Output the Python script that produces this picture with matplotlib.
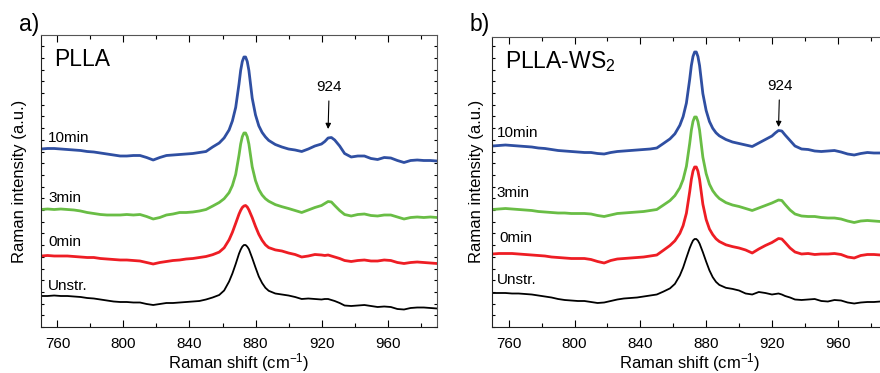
import matplotlib
matplotlib.use("Agg")
import matplotlib.pyplot as plt
from matplotlib.ticker import MultipleLocator

plt.rcParams['font.family'] = ['Liberation Sans', 'DejaVu Sans']
plt.rcParams['mathtext.fontset'] = 'custom'
plt.rcParams['mathtext.rm'] = 'Liberation Sans'
plt.rcParams['mathtext.it'] = 'Liberation Sans:italic'
plt.rcParams['mathtext.default'] = 'regular'

# Raman shift (cm-1)
wavenumber = [750, 754, 758, 762, 766, 770, 774, 778, 782, 786, 790, 794, 798, 802, 806, 810, 814, 818, 822, 826,
              830, 834, 838, 842, 846, 850,
              854, 858, 861, 864, 866, 868, 870, 871, 872, 873, 874, 875, 876, 878, 880, 882, 884, 886, 888, 892, 896,
              900, 904, 908, 912, 916, 920, 922, 924, 926, 928, 931, 934, 938,
              942, 946, 950, 954, 958, 962, 966, 970, 974, 978, 982, 986, 990]

# panel a) PLLA, stacked spectra (offset a.u.)
a_unstr = [31, 31, 31.5, 31, 31, 30.5, 30, 29, 28.5, 27.5, 26.5, 25.5, 25, 25, 24.5, 24.5, 23, 22, 23, 24,
           24, 24.5, 25, 25.5, 26, 27.5,
           29.5, 32, 36.5, 45.5, 53.5, 63, 73.3, 77.3, 80.4, 82, 82, 80.4, 77.8, 69, 59.5, 50.5, 44, 39.2, 36.2, 33.5, 32.5,
           31.5, 30, 28, 28.5, 28, 27.5, 28, 28, 27, 26, 24, 21.5, 21,
           21.5, 22, 21, 20, 20.5, 20, 18, 17.5, 19, 19.5, 19.5, 19, 18.5]
a_0min = [71, 71.5, 71, 71, 71, 70.5, 70, 69.5, 69.5, 68.5, 68, 67.5, 67, 67, 66.5, 66, 64.5, 63, 64.5, 65.5,
          66.5, 67, 68, 68.5, 69.5, 70.5,
          72.3, 74.9, 79.2, 87.2, 94.7, 103.7, 112.9, 116.6, 119.5, 121, 121.5, 120, 117.1, 109.4, 100.6, 92.7, 86.7, 82.2, 79.4, 77.1, 76,
          74, 72.5, 70, 71, 72.5, 72, 71.5, 72, 71, 70, 68.5, 66.5, 65.5,
          66.5, 67, 66, 66, 67, 66.5, 64.5, 63.5, 64.5, 65, 64.5, 64, 63.5]
a_3min = [117.5, 118, 117.5, 118, 117.5, 117, 116, 114.5, 113.5, 112.5, 112, 112, 112, 112.5, 112, 112.5, 110.5, 108, 109.5, 112,
          113, 114.5, 114.5, 115, 116, 117.5,
          120.9, 124.5, 128.3, 134.4, 141.5, 152.6, 171.8, 182.9, 190.3, 194, 194, 190.3, 182.9, 160.2, 146.4, 137.5, 132, 128.3, 125.8, 122.4, 120.3,
          118.5, 116.5, 114.5, 117, 119.5, 121.5, 123.5, 125.5, 125, 121.5, 116.5, 112.5, 111,
          112.5, 113, 111.5, 111, 112, 112, 110, 108, 109.5, 110, 109.5, 110, 109.5]
a_10min = [178, 178.5, 178.5, 178, 177.5, 177, 176.5, 175.5, 175, 174, 173, 172, 171, 171, 171.5, 171.5, 169.5, 167, 169.5, 171.5,
           172, 172.5, 173, 173.5, 174.5, 175.5,
           180, 184, 189.1, 197.1, 206.1, 219.6, 243, 256.5, 265.5, 270, 270, 265.5, 256.5, 228.9, 212.1, 201.2, 194.6, 190.1, 186.6, 182.5, 180,
           178, 177, 175.5, 178, 181, 183, 185.5, 189, 189.5, 187, 181, 173.5, 170,
           171, 171, 168.5, 167.5, 169.5, 169, 166.5, 164.5, 166.5, 167, 166.5, 166.5, 166]

# panel b) PLLA-WS2
b_unstr = [34, 34, 34, 33.5, 33.5, 33, 32.5, 31.5, 30.5, 29.5, 28, 27, 26.5, 26, 26, 25, 24, 24.5, 26, 27.5,
           28.5, 29, 29.5, 30.5, 31.5, 32.5,
           35.4, 38.6, 43.1, 51.5, 59.4, 69.3, 78.9, 82.9, 86.4, 88, 88, 86.4, 83.4, 74.8, 65.4, 56.6, 49.8, 45.1, 42.1, 39.2, 38.1,
           36.5, 33.5, 32.5, 35, 34, 32.5, 33, 33.5, 32.5, 31, 29.5, 27.5, 27,
           27.5, 28, 26, 25.5, 27, 26.5, 24.5, 23.5, 24.5, 25, 25, 25.5, 25]
b_0min = [73, 73.5, 73.5, 73.5, 73, 72.5, 72, 71.5, 71, 70, 69.5, 69, 68.5, 68.5, 68.5, 67.5, 65.5, 64, 66.5, 68,
          68.5, 69, 69.5, 70, 71, 72,
          76.7, 81.5, 86.2, 93.6, 101.4, 113.8, 135.3, 147.6, 155.9, 160, 160, 155.9, 147.6, 122.8, 107.5, 98, 92.4, 88.2, 85.5, 82.2, 80.4,
          79, 77, 74, 78, 81.5, 84.5, 86.5, 88.5, 88, 84.5, 79, 75, 73,
          73.5, 72.5, 73, 73, 73.5, 72.5, 70, 69, 71.5, 72.5, 72.5, 72, 71.5]
b_3min = [117.5, 118, 118.5, 118, 117.5, 117, 116.5, 115.5, 115, 114.5, 114, 114, 113.5, 113.5, 113.5, 113, 111.5, 110.5, 112, 113.5,
          114, 114.5, 115, 115.5, 116.5, 117.5,
          121.9, 126.4, 131.4, 139.2, 147.5, 160.7, 183.6, 196.8, 205.6, 210, 210, 205.6, 196.8, 169.8, 153.4, 142.8, 136.3, 131.9, 128.5, 124.4, 122,
          120.5, 118.5, 116.5, 119, 121.5, 124, 125.5, 127, 126.5, 122.5, 117, 113, 111,
          110.5, 110.5, 109.5, 109, 109, 108, 106, 104.5, 106, 106.5, 106, 105.5, 105]
b_10min = [181, 181.5, 182, 181.5, 181, 180.5, 180, 179, 178.5, 177.5, 176.5, 176, 175.5, 175, 174.5, 174.5, 173.5, 173, 174.5, 175.5,
           176, 176.5, 177, 177.5, 178, 179,
           183.5, 188.1, 193.2, 201.7, 210.4, 224, 247.7, 261.4, 270.5, 275, 275, 270.5, 261.4, 233.4, 216.5, 205.5, 198.7, 194.2, 191.2, 187.5, 185,
           183.5, 182, 180.5, 184, 187.5, 191, 194, 196.5, 196, 192, 186.5, 181, 178,
           177.5, 176, 175.5, 176, 176.5, 175, 173, 172, 173.5, 174.5, 174, 174, 173.5]

series_names = ['Unstr.', '0min', '3min', '10min']
series_colors = ['black', '#ee1d24', '#69bd45', '#2f4fa2']
series_widths = [1.3, 2.0, 2.0, 2.0]
x_ticks = [760, 800, 840, 880, 920, 960]
band = 924

W, H = 880, 373
fig = plt.figure(figsize=(W / 100, H / 100), dpi=100)


def px_axes(left, top, right, bottom):
    return fig.add_axes([left / W, 1 - bottom / H, (right - left) / W, (bottom - top) / H])


def draw_panel(ax, spectra, ytop, title, name_pos, ann_y, ylabelpad):
    for y, c, lw in zip(spectra, series_colors, series_widths):
        ax.plot(wavenumber, y, color=c, lw=lw, solid_joinstyle='round', solid_capstyle='round')
    for name, (x, y) in zip(series_names, name_pos):
        ax.text(x, y, name, fontsize=11, va='center', ha='left')
    ax.text(758, ytop - 25, title, fontsize=16.5, va='center', ha='left')
    ax.annotate(str(band), xy=(band, ann_y[0]), xytext=(band + 0.7, ann_y[1]),
                ha='center', va='center', fontsize=11,
                arrowprops=dict(arrowstyle='-|>', color='black', lw=0.8, mutation_scale=8,
                                shrinkA=3, shrinkB=0))
    ax.set_xlim(750, 990)
    ax.set_ylim(0, ytop)
    ax.set_xticks(x_ticks)
    ax.xaxis.set_minor_locator(MultipleLocator(20))
    ax.yaxis.set_major_locator(MultipleLocator(11.7))
    ax.tick_params(axis='x', which='both', direction='in', top=True, labelsize=11, pad=7)
    ax.tick_params(axis='x', which='major', length=5, width=0.8)
    ax.tick_params(axis='x', which='minor', length=3, width=0.8)
    ax.tick_params(axis='y', which='both', direction='in', left=True, right=True,
                   labelleft=False, length=2, width=0.8)
    for side in ['left', 'bottom']:
        ax.spines[side].set_color('#222222')
    for side in ['top', 'right']:
        ax.spines[side].set_color('#555555')
    ax.set_xlabel('Raman shift (cm$^{-1}$)', fontsize=12, labelpad=0)
    ax.set_ylabel('Raman intensity (a.u.)', fontsize=12, labelpad=ylabelpad)


ax_a = px_axes(41, 35, 437, 327)
draw_panel(ax_a, [a_unstr, a_0min, a_3min, a_10min], 292, 'PLLA',
           [(754.3, 41), (754.3, 85), (754.3, 129), (754.3, 189)], (198, 240), 10)

ax_b = px_axes(492.3, 36.7, 492.3 + 240 * 1.645, 327)
draw_panel(ax_b, [b_unstr, b_0min, b_3min, b_10min], 290.3, 'PLLA-WS$_2$',
           [(752.5, 47), (754, 89), (752.5, 134), (752.5, 194)], (200, 241), 6)

fig.text(19 / W, 1 - 24 / H, 'a)', fontsize=16.5, va='center', ha='left')
fig.text(470 / W, 1 - 25 / H, 'b)', fontsize=16.5, va='center', ha='left')

fig.savefig('out.png', dpi=100)
